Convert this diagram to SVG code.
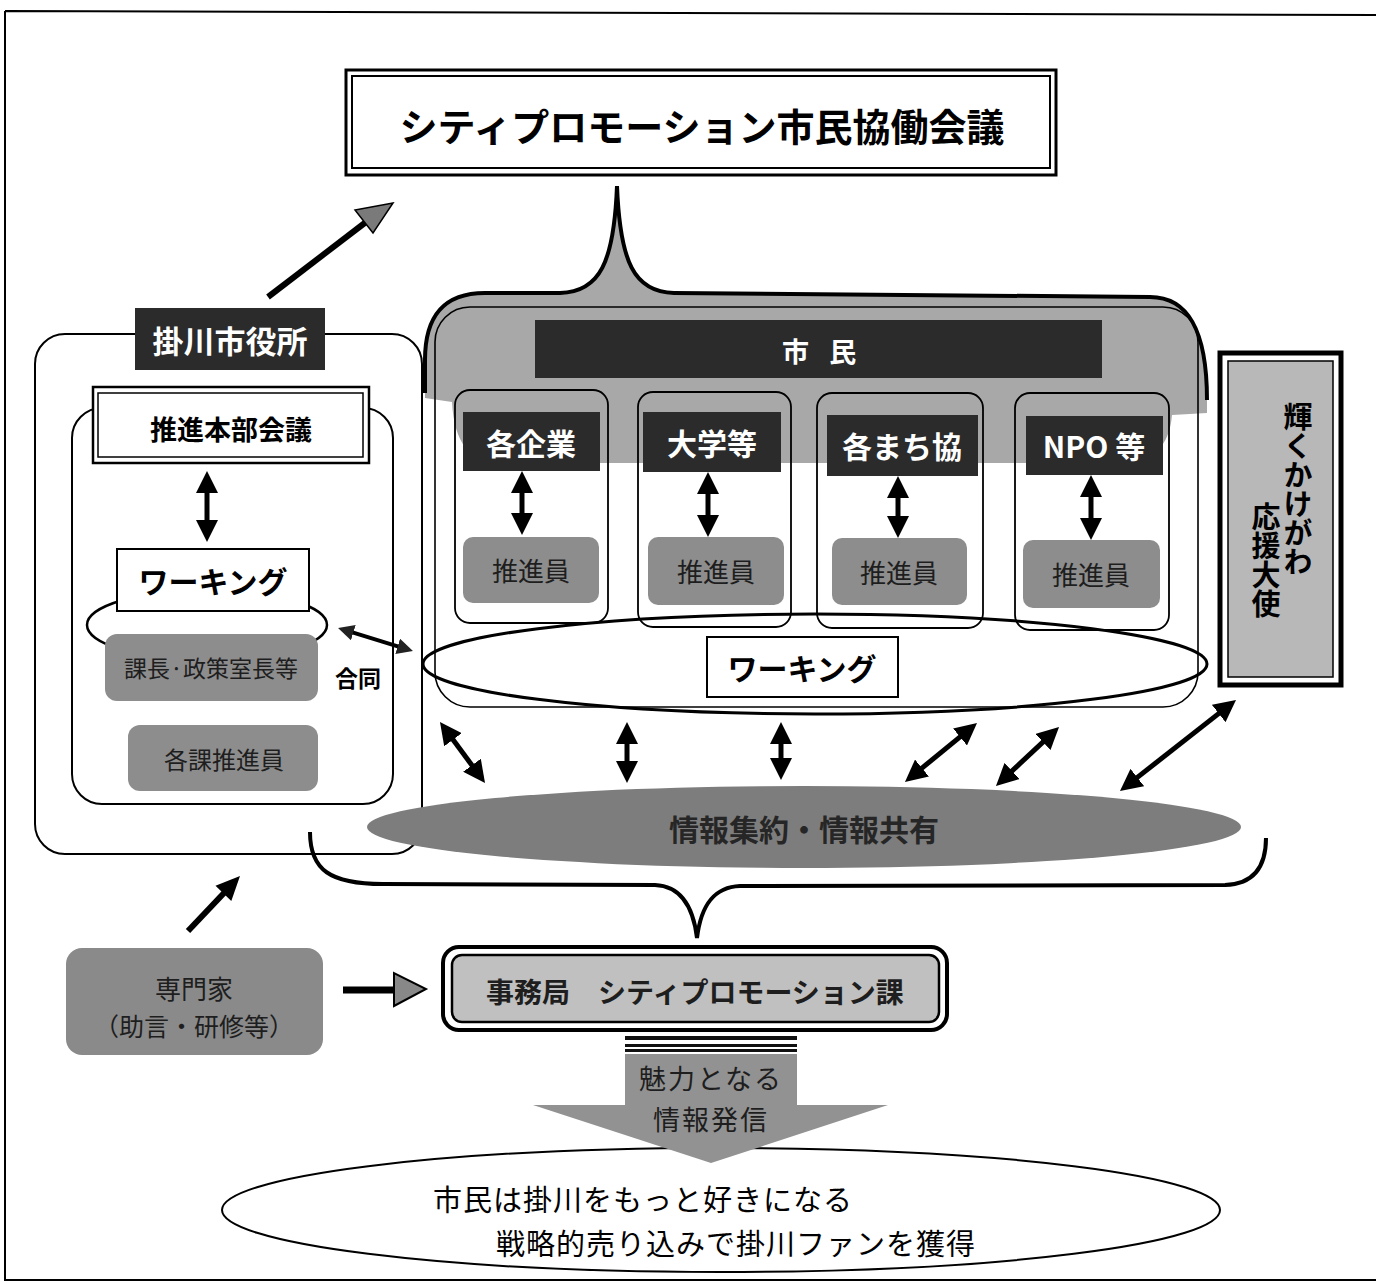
<svg xmlns="http://www.w3.org/2000/svg" width="1376" height="1284" viewBox="0 0 1376 1284">
<style>
.b{font-family:"Noto Sans CJK JP","Noto Sans",sans-serif;font-weight:bold}
.r{font-family:"Noto Sans CJK JP","Noto Sans",sans-serif}
.ln{fill:none;stroke:#000}
.wb{fill:#fff;stroke:#000}
.dark{fill:#2b2b2b}
.gbox{fill:#8d8d8d}
.wt{fill:#fff}
.tk{fill:#1e1e1e}
.vt{writing-mode:vertical-rl}
.da{stroke:#000;stroke-width:5;fill:none;marker-start:url(#ah);marker-end:url(#ah)}
.das{stroke:#000;stroke-width:4;fill:none;marker-start:url(#ahs);marker-end:url(#ahs)}
</style>
<defs>
<marker id="ah" viewBox="0 0 22 22" refX="8" refY="11" markerWidth="22" markerHeight="22" markerUnits="userSpaceOnUse" orient="auto-start-reverse"><path d="M0,0 L22,11 L0,22 z" fill="#000"/></marker>
<marker id="ahs" viewBox="0 0 16 16" refX="6" refY="8" markerWidth="16" markerHeight="16" markerUnits="userSpaceOnUse" orient="auto-start-reverse"><path d="M0,0 L16,8 L0,16 z" fill="#222"/></marker>
</defs>
<rect x="0" y="0" width="1376" height="1284" fill="#fff"/>
<path d="M5,11 L1376,15 M5,11 L5,1280 L1376,1280" class="ln" stroke-width="2"/>

<g id="title">
<rect x="346" y="70" width="710" height="105" class="wb" stroke-width="3"/>
<rect x="352" y="76" width="698" height="92" class="ln" stroke-width="2"/>
<text x="702" y="124" class="b" font-size="38" text-anchor="middle" dominant-baseline="central">シティプロモーション市民協働会議</text>
</g>

<g id="citizens">
<path d="M425,393 L425,360 C425,318 442,293 485,293 L560,293 C600,292 614,262 617,186 C620,262 634,292 674,293 L1150,297 C1188,297 1207,330 1207,400 L1207,413 L1172,415 Q1168,463 1120,463 L500,463 Q455,463 452,402 L425,398 Z" fill="#a8a8a8"/>
<path d="M425,393 L425,360 C425,318 442,293 485,293 L560,293 C600,292 614,262 617,186 C620,262 634,292 674,293 L1150,297 C1188,297 1207,330 1207,400" class="ln" stroke-width="4"/>
<rect x="435" y="307" width="763" height="400" rx="35" class="ln" stroke-width="1.6"/>
<rect x="535" y="320" width="567" height="58" class="dark"/>
<text x="782" y="350" class="b wt" font-size="27" letter-spacing="7" dominant-baseline="central">市 民</text>
</g>

<g id="org-kigyo">
<rect x="455" y="390" width="153" height="233" rx="15" class="ln" stroke-width="1.8"/>
<rect x="463" y="412" width="137" height="59" class="dark"/>
<text x="531" y="442" class="b wt" font-size="30" text-anchor="middle" dominant-baseline="central">各企業</text>
<rect x="463" y="537" width="136" height="66" rx="10" class="gbox"/>
<text x="531" y="569" class="r tk" font-size="26" text-anchor="middle" dominant-baseline="central">推進員</text>
</g>
<g id="org-daigaku">
<rect x="638" y="392" width="153" height="235" rx="15" class="ln" stroke-width="1.8"/>
<rect x="643" y="412" width="138" height="60" class="dark"/>
<text x="712" y="442" class="b wt" font-size="30" text-anchor="middle" dominant-baseline="central">大学等</text>
<rect x="648" y="537" width="136" height="68" rx="10" class="gbox"/>
<text x="716" y="570" class="r tk" font-size="26" text-anchor="middle" dominant-baseline="central">推進員</text>
</g>
<g id="org-machikyo">
<rect x="817" y="393" width="166" height="235" rx="15" class="ln" stroke-width="1.8"/>
<rect x="827" y="415" width="151" height="61" class="dark"/>
<text x="902" y="445" class="b wt" font-size="30" text-anchor="middle" dominant-baseline="central">各まち協</text>
<rect x="832" y="538" width="135" height="67" rx="10" class="gbox"/>
<text x="899" y="571" class="r tk" font-size="26" text-anchor="middle" dominant-baseline="central">推進員</text>
</g>
<g id="org-npo">
<rect x="1015" y="393" width="154" height="237" rx="15" class="ln" stroke-width="1.8"/>
<rect x="1026" y="416" width="137" height="59" class="dark"/>
<text x="1094" y="445" class="b wt" font-size="30" text-anchor="middle" dominant-baseline="central">NPO 等</text>
<rect x="1023" y="540" width="137" height="68" rx="10" class="gbox"/>
<text x="1091" y="573" class="r tk" font-size="26" text-anchor="middle" dominant-baseline="central">推進員</text>
</g>

<g id="working-citizen">
<ellipse cx="815" cy="664" rx="392" ry="50" class="ln" stroke-width="3"/>
<rect x="707" y="637" width="191" height="60" class="wb" stroke-width="2"/>
<text x="802" y="667" class="b" font-size="30" text-anchor="middle" dominant-baseline="central">ワーキング</text>
</g>

<g id="ambassador">
<rect x="1220" y="353" width="121" height="332" class="ln" stroke-width="5"/>
<rect x="1228" y="361" width="105" height="316" fill="#b8b8b8" stroke="#000" stroke-width="1.5"/>
<text x="1298" y="402" class="b vt" font-size="29">輝くかけがわ</text>
<text x="1266" y="502" class="b vt" font-size="29">応援大使</text>
</g>

<g id="cityhall">
<rect x="35" y="334" width="387" height="520" rx="30" class="ln" stroke-width="2"/>
<rect x="135" y="308" width="190" height="62" class="dark"/>
<text x="230" y="339" class="b wt" font-size="31" text-anchor="middle" dominant-baseline="central">掛川市役所</text>
<rect x="72" y="408" width="321" height="396" rx="30" class="ln" stroke-width="2"/>
<rect x="93" y="387" width="276" height="76" class="wb" stroke-width="2.5"/>
<rect x="98" y="393" width="265" height="64" class="ln" stroke-width="1.5"/>
<text x="231" y="428" class="b" font-size="27" text-anchor="middle" dominant-baseline="central">推進本部会議</text>
<ellipse cx="207" cy="625" rx="120" ry="35" class="ln" stroke-width="2.5"/>
<rect x="117" y="549" width="192" height="62" class="wb" stroke-width="2"/>
<text x="213" y="580" class="b" font-size="30" text-anchor="middle" dominant-baseline="central">ワーキング</text>
<rect x="105" y="634" width="213" height="67" rx="12" class="gbox"/>
<text x="211" y="667" class="r tk" font-size="23" text-anchor="middle" dominant-baseline="central">課長·政策室長等</text>
<rect x="128" y="725" width="190" height="66" rx="12" class="gbox"/>
<text x="224" y="758" class="r tk" font-size="24" text-anchor="middle" dominant-baseline="central">各課推進員</text>
<text x="358" y="677" class="b" font-size="23" text-anchor="middle" dominant-baseline="central">合同</text>
</g>

<g id="info">
<ellipse cx="804" cy="827" rx="437" ry="41" fill="#7d7d7d"/>
<text x="804" y="828" class="b" font-size="30" fill="#262626" text-anchor="middle" dominant-baseline="central">情報集約・情報共有</text>
</g>

<g id="jimukyoku">
<rect x="443" y="947" width="504" height="83" rx="16" class="wb" stroke-width="4"/>
<rect x="452" y="955" width="487" height="67" rx="10" fill="#c0c0c0" stroke="#000" stroke-width="2.5"/>
<text x="695" y="991" class="b tk" font-size="28" text-anchor="middle" dominant-baseline="central">事務局　シティプロモーション課</text>
</g>

<g id="experts">
<rect x="66" y="948" width="257" height="107" rx="16" fill="#8a8a8a"/>
<text x="194" y="987" class="r tk" font-size="26" text-anchor="middle" dominant-baseline="central">専門家</text>
<text x="194" y="1025" class="r tk" font-size="25" text-anchor="middle" dominant-baseline="central">（助言・研修等）</text>
</g>

<g id="result">
<ellipse cx="721" cy="1210" rx="499" ry="62" class="ln" stroke-width="2"/>
<text x="433" y="1198" class="r" font-size="29" letter-spacing="1" dominant-baseline="central">市民は掛川をもっと好きになる</text>
<text x="496" y="1242" class="r" font-size="29" letter-spacing="1" dominant-baseline="central">戦略的売り込みで掛川ファンを獲得</text>
</g>

<g id="hasshin">
<rect x="625" y="1036" width="172" height="4" fill="#111"/>
<rect x="625" y="1044" width="172" height="3" fill="#111"/>
<rect x="625" y="1049" width="172" height="3" fill="#111"/>
<path d="M625,1054 L797,1054 L797,1105 L888,1105 L711,1163 L533,1105 L625,1105 Z" fill="#929292"/>
<text x="711" y="1077" class="r tk" font-size="27" letter-spacing="2" text-anchor="middle" dominant-baseline="central">魅力となる</text>
<text x="711" y="1118" class="r tk" font-size="27" letter-spacing="2" text-anchor="middle" dominant-baseline="central">情報発信</text>
</g>

<g id="connectors">
<line x1="268" y1="297" x2="366" y2="222" stroke="#000" stroke-width="6"/>
<polygon points="393,203 355,210 373,233" fill="#7a7a7a" stroke="#000" stroke-width="1.5"/>
<line x1="207" y1="485" x2="207" y2="528" class="da"/>
<line x1="347.6" y1="630.9" x2="403.4" y2="648.1" class="das"/>
<line x1="522" y1="485" x2="522" y2="521" class="da"/>
<line x1="708" y1="486" x2="708" y2="523" class="da"/>
<line x1="898" y1="490" x2="898" y2="524" class="da"/>
<line x1="1091" y1="489" x2="1091" y2="526" class="da"/>
<line x1="448.3" y1="733.3" x2="476.7" y2="771.7" class="da"/>
<line x1="627" y1="736" x2="627" y2="769" class="da"/>
<line x1="781" y1="736" x2="781" y2="766" class="da"/>
<line x1="966.2" y1="731.9" x2="915.8" y2="773.1" class="da"/>
<line x1="1048.8" y1="736.6" x2="1006.2" y2="776.4" class="da"/>
<line x1="1225" y1="708.6" x2="1131" y2="782.4" class="da"/>
<path d="M310,832 C310,870 330,884 383,884 L655,885 C680,886 693,905 697,938 C701,905 714,887 740,886 L1225,885 C1255,884 1266,865 1266,838" class="ln" stroke-width="4"/>
<line x1="188" y1="931" x2="224" y2="893" stroke="#000" stroke-width="6"/>
<polygon points="240,876 231.3,900.9 215.5,885.7" fill="#000"/>
<line x1="343" y1="990" x2="396" y2="990" stroke="#000" stroke-width="7"/>
<polygon points="394,973 394,1006 426,989" fill="#888" stroke="#000" stroke-width="2"/>
</g>
</svg>
